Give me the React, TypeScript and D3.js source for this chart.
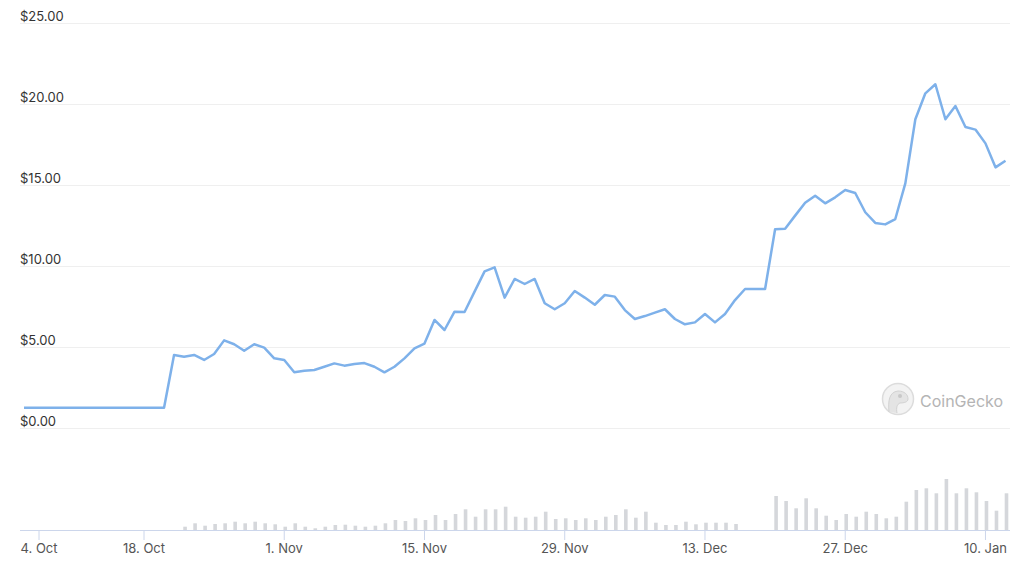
import * as d3 from "d3";
import { useRef, useEffect } from "react";

// daily closing price, 2 Oct 2021 .. 12 Jan 2022
const priceStart = new Date(2021, 9, 2);
const prices = [
    1.28, 1.28, 1.28, 1.28, 1.28, 1.28, 1.28, 1.28, 1.28, 1.28,
    1.28, 1.28, 1.28, 1.28, 1.28, 1.28, 1.28, 1.28, 1.28,
    // 21 Oct
    4.54, 4.43, 4.54, 4.23, 4.6, 5.44, 5.2, 4.8, 5.2, 4.99, 4.33,
    // Nov
    4.23, 3.47, 3.57, 3.61, 3.81, 4.02, 3.88, 3.98, 4.04, 3.81,
    3.47, 3.81, 4.33, 4.95, 5.24, 6.7, 6.08, 7.21, 7.19, 8.45,
    9.7, 9.95, 8.08, 9.23, 8.92, 9.23, 7.73, 7.36, 7.73, 8.49,
    // Dec
    8.08, 7.64, 8.24, 8.14, 7.31, 6.76, 6.94, 7.15, 7.36, 6.76,
    6.43, 6.55, 7.07, 6.55, 7.07, 7.93, 8.61, 8.61, 8.61, 12.3,
    12.33, 13.14, 13.94, 14.37, 13.9, 14.27, 14.72, 14.54, 13.35, 12.69, 12.6,
    // Jan
    12.93, 15.13, 19.09, 20.69, 21.25, 19.09, 19.91, 18.61, 18.45, 17.6, 16.12, 16.53,
];

// daily volume (thousand USD), 22 Oct 2021 .. 12 Jan 2022
const volumeStart = new Date(2021, 9, 22);
const volumes = [
    66, 134, 86, 120, 134, 166, 134, 166, 134, 114,
    66, 134, 66, 34, 66, 100, 106, 86, 66, 86,
    134, 200, 180, 234, 200, 300, 200, 320, 414, 266,
    414, 414, 466, 266, 246, 266, 366, 220, 234, 200,
    234, 200, 266, 300, 414, 246, 366, 146, 100, 100,
    166, 114, 146, 146, 146, 120, 0, 0, 0, 680,
    580, 434, 634, 434, 286, 200, 320, 266, 366, 320, 234,
    266, 566, 800, 834, 734, 1020, 734, 834, 754, 580, 386, 734,
];

const priceTicks = [0, 5, 10, 15, 20, 25];
const dateTicks = [
    new Date(2021, 9, 4), new Date(2021, 9, 18), new Date(2021, 10, 1),
    new Date(2021, 10, 15), new Date(2021, 10, 29), new Date(2021, 11, 13),
    new Date(2021, 11, 27), new Date(2022, 0, 10),
];

const width = 1024;
const height = 565;
const plotLeft = 20;
const plotRight = 1010;
const font = "Inter, 'Noto Sans', sans-serif";

export default function App() {
    const ref = useRef<SVGGElement>(null);

    useEffect(() => {
        const g = d3.select(ref.current);
        g.selectAll("*").remove();

        const priceData = prices.map((p, i) => ({ date: d3.timeDay.offset(priceStart, i), value: p }));
        const volumeData = volumes.map((v, i) => ({ date: d3.timeDay.offset(volumeStart, i), value: v }));
        const lastDate = priceData[priceData.length - 1].date;

        // ordinal-like axis: the sparse early stretch is compressed
        const x = d3.scaleTime()
            .domain([priceStart, new Date(2021, 9, 18), lastDate])
            .range([24, 144, 1005.5]);

        const y = d3.scaleLinear().domain([0, 25]).range([428.5, 23.5]);
        const yVol = d3.scaleLinear().domain([0, 2000]).range([530, 430]);

        // grid + y labels
        g.append("g").selectAll("line")
            .data(priceTicks)
            .join("line")
            .attr("x1", plotLeft).attr("x2", plotRight)
            .attr("y1", d => y(d)).attr("y2", d => y(d))
            .attr("stroke", "#efefef").attr("stroke-width", 1);

        g.append("g").selectAll("text")
            .data(priceTicks)
            .join("text")
            .attr("x", plotLeft)
            .attr("y", d => y(d) - 2.5)
            .attr("font-family", font).attr("font-size", 13)
            .attr("fill", "#333")
            .text(d => d3.format("$.2f")(d));

        // volume bars
        const barW = 3.6;
        g.append("g").selectAll("rect")
            .data(volumeData.filter(d => d.value > 0))
            .join("rect")
            .attr("x", d => x(d.date) - barW / 2 + 1)
            .attr("y", d => yVol(d.value))
            .attr("width", barW)
            .attr("height", d => yVol(0) - yVol(d.value))
            .attr("fill", "#d5d7db");

        // x axis
        g.append("line")
            .attr("x1", plotLeft).attr("x2", plotRight)
            .attr("y1", 530.5).attr("y2", 530.5)
            .attr("stroke", "#ccd6eb");

        const ticks = g.append("g").selectAll("g")
            .data(dateTicks)
            .join("g")
            .attr("transform", d => `translate(${x(d)},530)`);
        ticks.append("line")
            .attr("y1", 0).attr("y2", 10)
            .attr("stroke", "#ccd6eb");
        ticks.append("text")
            .attr("y", 23)
            .attr("text-anchor", "middle")
            .attr("font-family", font).attr("font-size", 13)
            .attr("fill", "#555")
            .text(d => d3.timeFormat("%-d. %b")(d));

        // price line
        const line = d3.line<{ date: Date; value: number }>()
            .x(d => x(d.date))
            .y(d => y(d.value));
        g.append("path")
            .datum(priceData)
            .attr("d", line)
            .attr("fill", "none")
            .attr("stroke", "#7eb1ea")
            .attr("stroke-width", 2.5)
            .attr("stroke-linejoin", "round");

        // watermark
        const wm = g.append("g").attr("transform", "translate(898,399)");
        wm.append("circle").attr("r", 15.5)
            .attr("fill", "#f3f3f3").attr("stroke", "#dcdcdc").attr("stroke-width", 1.5);
        wm.append("path")
            .attr("d", "M-9,13 C-10,2 -9,-7 0,-8 C7,-8 10,-4 10,0 C10,3 6,4 2,4 C-1,5 -2,9 -1,14")
            .attr("fill", "#e4e4e4").attr("stroke", "#d2d2d2").attr("stroke-width", 1);
        wm.append("circle").attr("cx", 2).attr("cy", -3).attr("r", 2)
            .attr("fill", "#c8c8c8");
        g.append("text")
            .attr("x", 920).attr("y", 407)
            .attr("font-family", font).attr("font-size", 16)
            .attr("fill", "#b4b4b4")
            .text("CoinGecko");
    }, []);

    return (
        <svg width={width} height={height} style={{ position: "absolute", left: 0, top: 0, background: "#fff" }}>
            <g ref={ref}></g>
        </svg>
    );
}
